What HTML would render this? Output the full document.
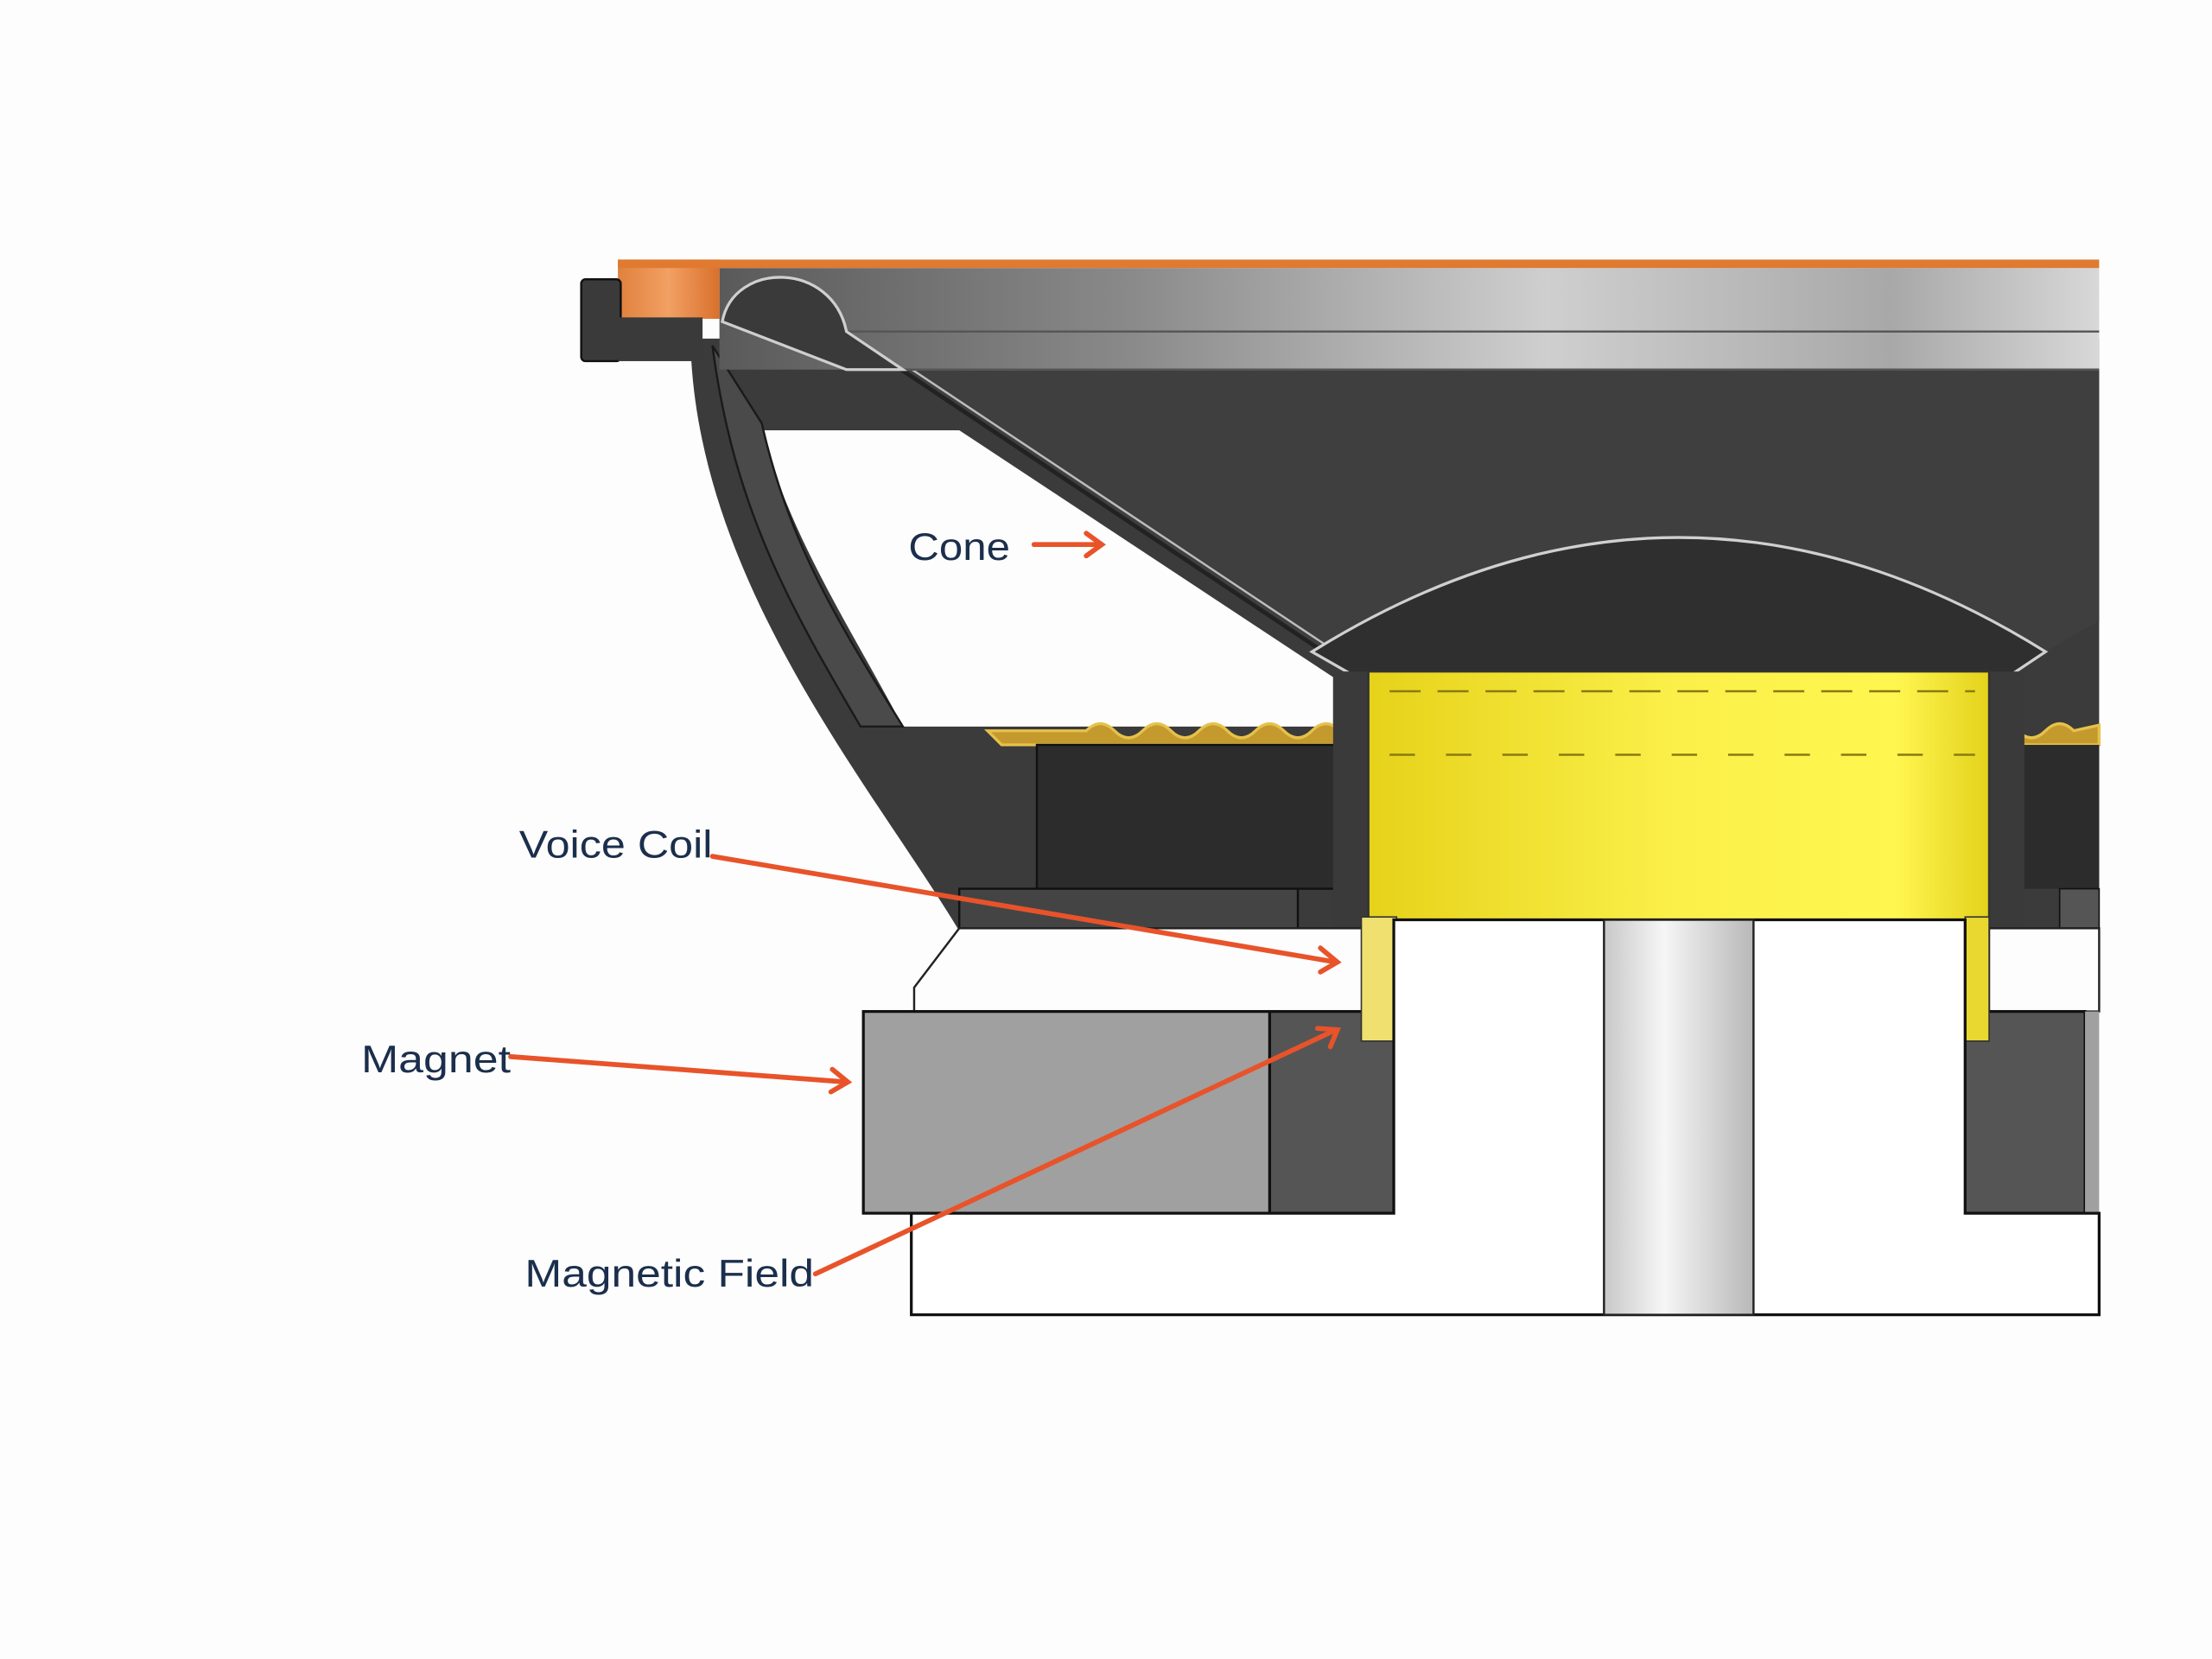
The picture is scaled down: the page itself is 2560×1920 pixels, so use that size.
<!DOCTYPE html>
<html><head><meta charset="utf-8"><style>
html,body{margin:0;padding:0;background:#fdfdfd;}
svg{display:block;}
text{font-family:"Liberation Sans",sans-serif;fill:#1b2f4c;font-size:27px;}
</style></head><body>
<svg width="2560" height="1920" viewBox="0 0 1568 1176" xmlns="http://www.w3.org/2000/svg">
<defs>
<linearGradient id="rimg" x1="0" y1="0" x2="1" y2="0">
<stop offset="0" stop-color="#5a5a5a"/><stop offset="0.3" stop-color="#8a8a8a"/><stop offset="0.6" stop-color="#cfcfcf"/><stop offset="0.85" stop-color="#a8a8a8"/><stop offset="1" stop-color="#d8d8d8"/></linearGradient>
<linearGradient id="yel" x1="0" y1="0" x2="1" y2="0">
<stop offset="0" stop-color="#e6d21a"/><stop offset="0.5" stop-color="#fbf04a"/><stop offset="0.85" stop-color="#fff650"/><stop offset="1" stop-color="#e4d21c"/></linearGradient>
<linearGradient id="shaft" x1="0" y1="0" x2="1" y2="0">
<stop offset="0" stop-color="#c8c8c8"/><stop offset="0.4" stop-color="#f6f6f6"/><stop offset="1" stop-color="#b8b8b8"/></linearGradient>
<linearGradient id="org" x1="0" y1="0" x2="1" y2="0">
<stop offset="0" stop-color="#e0813e"/><stop offset="0.5" stop-color="#f2a064"/><stop offset="1" stop-color="#d9702c"/></linearGradient>
</defs>
<rect width="1568" height="1176" fill="#fdfdfd"/>
<path d="M490,240 L1488,240 L1488,660 L680,660 C620,560 500,420 490,255 Z" fill="#3b3b3b"/>
<path d="M540,305 L680,305 L945,480 L945,515 L640,515 C600,440 560,380 540,305 Z" fill="#fdfdfd"/>
<path d="M505,245 L540,300 C560,390 600,450 640,515 L610,515 C560,430 520,360 505,245 Z" fill="#4a4a4a" stroke="#1a1a1a" stroke-width="1.5"/>
<path d="M600,238 L640,262 L1488,262 L1488,440 L1450,462 L1420,480 L965,480 Z" fill="#3f3f3f"/>
<path d="M600,236 L965,480" stroke="#222" stroke-width="3"/>
<path d="M603,233 L968,476" stroke="#bdbdbd" stroke-width="1.5"/>
<path d="M930,462 Q1190,300 1450,462 L1420,482 L965,482 Z" fill="#2f2f2f" stroke="#d0d0d0" stroke-width="2"/>
<rect x="510" y="190" width="978" height="72" fill="url(#rimg)"/>
<line x1="600" y1="235" x2="1488" y2="235" stroke="#555" stroke-width="1.5"/>
<line x1="640" y1="262" x2="1488" y2="262" stroke="#555" stroke-width="1.5"/>
<path d="M512,228 C520,185 590,185 600,235 L640,262 L600,262 Z" fill="#3a3a3a" stroke="#cfcfcf" stroke-width="2"/>
<rect x="438" y="184" width="72" height="42" fill="url(#org)"/>
<rect x="438" y="184" width="1050" height="6" fill="#e07a30"/>
<rect x="412" y="198" width="28" height="58" rx="3" fill="#3a3a3a" stroke="#111" stroke-width="1.5"/>
<rect x="438" y="225" width="60" height="31" fill="#3a3a3a"/>
<path d="M700,518 L770,518 q10,-10 20,0 t20,0 t20,0 t20,0 t20,0 t20,0 t20,0 t20,0 t20,0 L970,512 L970,528 L710,528 Z" fill="#c49a2e" stroke="#e6c24a" stroke-width="2"/>
<path d="M1410,518 q10,-10 20,0 t20,0 t20,0 L1488,514 L1488,528 L1410,528 Z" fill="#c49a2e" stroke="#e6c24a" stroke-width="2"/>
<rect x="735" y="528" width="235" height="102" fill="#2c2c2c" stroke="#111" stroke-width="1.5"/>
<rect x="680" y="630" width="240" height="28" fill="#444" stroke="#111" stroke-width="1.5"/>
<rect x="1410" y="528" width="78" height="102" fill="#2c2c2c"/>
<rect x="1460" y="630" width="28" height="28" fill="#555" stroke="#111" stroke-width="1"/>
<rect x="945" y="476" width="30" height="180" fill="#3a3a3a"/>
<rect x="1405" y="476" width="30" height="180" fill="#3a3a3a"/>
<rect x="970" y="476" width="440" height="180" fill="url(#yel)" stroke="#333" stroke-width="1.5"/>
<line x1="985" y1="490" x2="1400" y2="490" stroke="#8a7a10" stroke-width="1.5" stroke-dasharray="22,12"/>
<line x1="985" y1="535" x2="1400" y2="535" stroke="#8a7a10" stroke-width="1.5" stroke-dasharray="18,22"/>
<path d="M680,658 L970,658 L970,717 L648,717 L648,700 Z" fill="#fdfdfd" stroke="#222" stroke-width="1.5"/>
<rect x="1410" y="658" width="78" height="59" fill="#fdfdfd" stroke="#222" stroke-width="1.5"/>
<rect x="612" y="717" width="290" height="143" fill="#a0a0a0" stroke="#111" stroke-width="2"/>
<rect x="900" y="717" width="88" height="143" fill="#555" stroke="#111" stroke-width="2"/>
<rect x="1390" y="717" width="88" height="143" fill="#555" stroke="#111" stroke-width="2"/>
<rect x="1478" y="717" width="10" height="143" fill="#a0a0a0"/>
<rect x="965" y="650" width="25" height="88" fill="#efe070" stroke="#333" stroke-width="1"/>
<rect x="1393" y="650" width="17" height="88" fill="#e8d830" stroke="#333" stroke-width="1"/>
<path d="M990,652 L1393,652 L1393,860 L1488,860 L1488,932 L646,932 L646,860 L988,860 L988,652 Z" fill="#ffffff" stroke="#111" stroke-width="2"/>
<rect x="1137" y="652" width="106" height="280" fill="url(#shaft)" stroke="#222" stroke-width="1.5"/>
<text x="644" y="397" textLength="72" lengthAdjust="spacingAndGlyphs">Cone</text>
<text x="368" y="608" textLength="137" lengthAdjust="spacingAndGlyphs">Voice Coil</text>
<text x="256" y="760" textLength="106" lengthAdjust="spacingAndGlyphs">Magnet</text>
<text x="372" y="912" textLength="205" lengthAdjust="spacingAndGlyphs">Magnetic Field</text>
<g stroke="#e8532a" stroke-width="3.5" fill="none" stroke-linecap="round">
<line x1="733" y1="386" x2="780" y2="386"/><path d="M770,378 L781,386 L770,394"/>
<line x1="505" y1="607" x2="947" y2="682"/><path d="M936,672 L948,682 L936,689"/>
<line x1="362" y1="749" x2="600" y2="767"/><path d="M590,758 L601,767 L589,774"/>
<line x1="578" y1="903" x2="947" y2="730"/><path d="M934,729 L948,730 L943,742"/>
</g>
</svg>
</body></html>
